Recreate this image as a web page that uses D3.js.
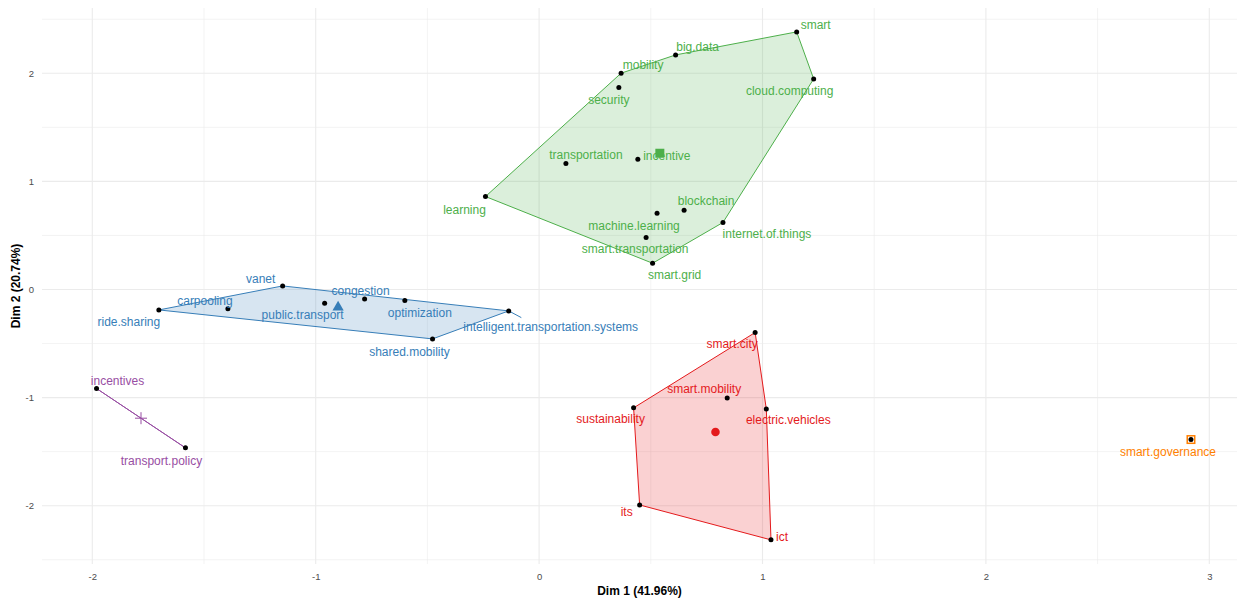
<!DOCTYPE html>
<html>
<head>
<meta charset="utf-8">
<script src="https://cdn.jsdelivr.net/npm/d3@7"></script>
<style>
  body { margin: 0; background: #fff; }
  svg { display: block; font-family: "Liberation Sans", Arial, sans-serif; }
</style>
</head>
<body>
<svg id="chart" width="1239" height="598"></svg>
<script>
// ---- data ----
const words = ["smart","big.data","mobility","security","cloud.computing","transportation","incentive","learning","blockchain","machine.learning","internet.of.things","smart.transportation","smart.grid",
  "vanet","carpooling","ride.sharing","public.transport","congestion","optimization","intelligent.transportation.systems","shared.mobility",
  "smart.city","smart.mobility","sustainability","electric.vehicles","its","ict",
  "incentives","transport.policy",
  "smart.governance"];
const dim1 = [1.153,0.611,0.367,0.357,1.229,0.120,0.442,-0.240,0.649,0.528,0.823,0.479,0.508,
  -1.148,-1.393,-1.702,-0.960,-0.781,-0.601,-0.136,-0.477,
  0.967,0.842,0.423,1.017,0.450,1.038,
  -1.981,-1.583,
  2.918];
const dim2 = [2.383,2.170,2.001,1.869,1.948,1.166,1.205,0.860,0.734,0.706,0.620,0.481,0.243,
  0.033,-0.179,-0.189,-0.127,-0.087,-0.102,-0.198,-0.457,
  -0.398,-1.003,-1.095,-1.105,-1.993,-2.316,
  -0.916,-1.465,
  -1.388];
const cluster = [3,3,3,3,3,3,3,3,3,3,3,3,3,
  2,2,2,2,2,2,2,2,
  1,1,1,1,1,1,
  4,4,
  5];
const clusterIds = [1,2,3,4,5];
const clusterColors = ["#E41A1C","#377EB8","#4DAF4A","#984EA3","#FF7F00"];
const clusterShapes = ["circle","triangle","square","plus","square"];
const xTicks = [-2,-1,0,1,2,3];
const yTicks = [-2,-1,0,1,2];
const xTitle = "Dim 1 (41.96%)";
const yTitle = "Dim 2 (20.74%)";

// label placement offsets (px, relative to point) mimicking ggrepel
const labelOffsets = {
  "smart":[19,-7],"big.data":[22,-8],"mobility":[22,-8],"security":[-10,12],"cloud.computing":[-24,12],
  "transportation":[20,-9],"incentive":[29,-3],"learning":[-21,13],"blockchain":[22,-9],"machine.learning":[-23,13],
  "internet.of.things":[44,11],"smart.transportation":[-11,11],"smart.grid":[22,12],
  "vanet":[-22,-7],"carpooling":[-23,-8],"ride.sharing":[-30,12],"public.transport":[-22,12],"congestion":[-4,-8],
  "optimization":[15,12],"intelligent.transportation.systems":[42,16],"shared.mobility":[-23,13],
  "smart.city":[-23,11],"smart.mobility":[-23,-9],"sustainability":[-23,11],"electric.vehicles":[22,11],"its":[-13,7],"ict":[11,-3],
  "incentives":[21,-8],"transport.policy":[-24,13],"smart.governance":[-23,12]
};

// ---- layout ----
const svg = d3.select("#chart");
const panel = {left: 42, right: 1237, top: 8, bottom: 564};
const x = d3.scaleLinear().domain([-2, 3]).range([92.3, 1209.3]);
const y = d3.scaleLinear().domain([-2, 2]).range([505.7, 73.3]);
const xDom = [x.invert(panel.left), x.invert(panel.right)];
const yDom = [y.invert(panel.bottom), y.invert(panel.top)];

const points = words.map((w, i) => ({name: w, x: dim1[i], y: dim2[i], c: cluster[i]}));
const color = c => clusterColors[clusterIds.indexOf(c)];

// grid
const grid = svg.append("g");
const minorX = d3.range(Math.ceil(xDom[0]*2)/2, xDom[1], 0.5).filter(v => v % 1 !== 0);
const minorY = d3.range(Math.ceil(yDom[0]*2)/2, yDom[1], 0.5).filter(v => v % 1 !== 0);
grid.selectAll(".mx").data(minorX).join("line")
  .attr("x1", d => x(d)).attr("x2", d => x(d)).attr("y1", panel.top).attr("y2", panel.bottom)
  .attr("stroke", "#EBEBEB").attr("stroke-width", 0.6);
grid.selectAll(".my").data(minorY).join("line")
  .attr("y1", d => y(d)).attr("y2", d => y(d)).attr("x1", panel.left).attr("x2", panel.right)
  .attr("stroke", "#EBEBEB").attr("stroke-width", 0.6);
grid.selectAll(".gx").data(xTicks).join("line")
  .attr("x1", d => x(d)).attr("x2", d => x(d)).attr("y1", panel.top).attr("y2", panel.bottom)
  .attr("stroke", "#EBEBEB").attr("stroke-width", 1.1);
grid.selectAll(".gy").data(yTicks).join("line")
  .attr("y1", d => y(d)).attr("y2", d => y(d)).attr("x1", panel.left).attr("x2", panel.right)
  .attr("stroke", "#EBEBEB").attr("stroke-width", 1.1);

// axes (labels only)
const xAxis = svg.append("g").attr("transform", `translate(0,${panel.bottom + 4})`)
  .call(d3.axisBottom(x).tickValues(xTicks).tickSize(0).tickFormat(d => String(d)));
const yAxis = svg.append("g").attr("transform", `translate(${panel.left - 5},0)`)
  .call(d3.axisLeft(y).tickValues(yTicks).tickSize(0).tickFormat(d => String(d)));
[xAxis, yAxis].forEach(a => {
  a.select(".domain").remove();
  a.selectAll("text").attr("fill", "#4D4D4D").attr("font-size", 9.5)
    .attr("font-family", "'Liberation Sans', Arial, sans-serif");
});
xAxis.selectAll("text").attr("dy", "0.9em");

svg.append("text").attr("x", (panel.left + panel.right) / 2).attr("y", 595)
  .attr("text-anchor", "middle").attr("font-weight", "bold").attr("font-size", 12)
  .attr("fill", "#000").text(xTitle);
svg.append("text").attr("transform", `translate(20,${(panel.top + panel.bottom) / 2}) rotate(-90)`)
  .attr("text-anchor", "middle").attr("font-weight", "bold").attr("font-size", 12)
  .attr("fill", "#000").text(yTitle);

// hulls
const hullG = svg.append("g");
clusterIds.forEach(c => {
  const pts = points.filter(p => p.c === c).map(p => [x(p.x), y(p.y)]);
  if (pts.length < 2) return;
  const hull = pts.length >= 3 ? d3.polygonHull(pts) : pts;
  hullG.append("path")
    .attr("d", "M" + hull.map(p => p.join(",")).join("L") + "Z")
    .attr("fill", color(c)).attr("fill-opacity", 0.2)
    .attr("stroke", color(c)).attr("stroke-width", 1);
});

// label segment for long repelled label
const segG = svg.append("g");
points.filter(p => p.name === "intelligent.transportation.systems").forEach(p => {
  const o = labelOffsets[p.name];
  segG.append("line")
    .attr("x1", x(p.x)).attr("y1", y(p.y))
    .attr("x2", x(p.x) + o[0] * 0.3).attr("y2", y(p.y) + o[1] * 0.42)
    .attr("stroke", color(p.c)).attr("stroke-width", 1);
});

// centroids
const centG = svg.append("g");
clusterIds.forEach((c, k) => {
  const mem = points.filter(p => p.c === c);
  const cx = x(d3.mean(mem, p => p.x)), cy = y(d3.mean(mem, p => p.y));
  const col = clusterColors[k], shape = clusterShapes[k];
  if (shape === "circle") {
    centG.append("circle").attr("cx", cx).attr("cy", cy).attr("r", 4.3).attr("fill", col);
  } else if (shape === "triangle") {
    centG.append("path").attr("d", d3.symbol(d3.symbolTriangle, 55)()).attr("transform", `translate(${cx},${cy})`).attr("fill", col);
  } else if (shape === "square") {
    centG.append("rect").attr("x", cx - 4.5).attr("y", cy - 4.5).attr("width", 9).attr("height", 9).attr("fill", col);
    if (mem.length === 1) {
      centG.append("rect").attr("x", cx - 3).attr("y", cy - 3).attr("width", 6).attr("height", 6).attr("fill", "#fff");
    }
  } else if (shape === "plus") {
    centG.append("path").attr("d", `M${cx - 6},${cy}H${cx + 6}M${cx},${cy - 6}V${cy + 6}`)
      .attr("stroke", col).attr("stroke-width", 1);
  }
});

// points
svg.append("g").selectAll("circle").data(points).join("circle")
  .attr("cx", d => x(d.x)).attr("cy", d => y(d.y)).attr("r", 2.5).attr("fill", "#000");

// labels
svg.append("g").selectAll("text").data(points).join("text")
  .attr("x", d => x(d.x) + labelOffsets[d.name][0])
  .attr("y", d => y(d.y) + labelOffsets[d.name][1])
  .attr("dy", "0.35em").attr("text-anchor", "middle")
  .attr("font-size", 12).attr("fill", d => color(d.c))
  .text(d => d.name);
</script>
</body>
</html>
